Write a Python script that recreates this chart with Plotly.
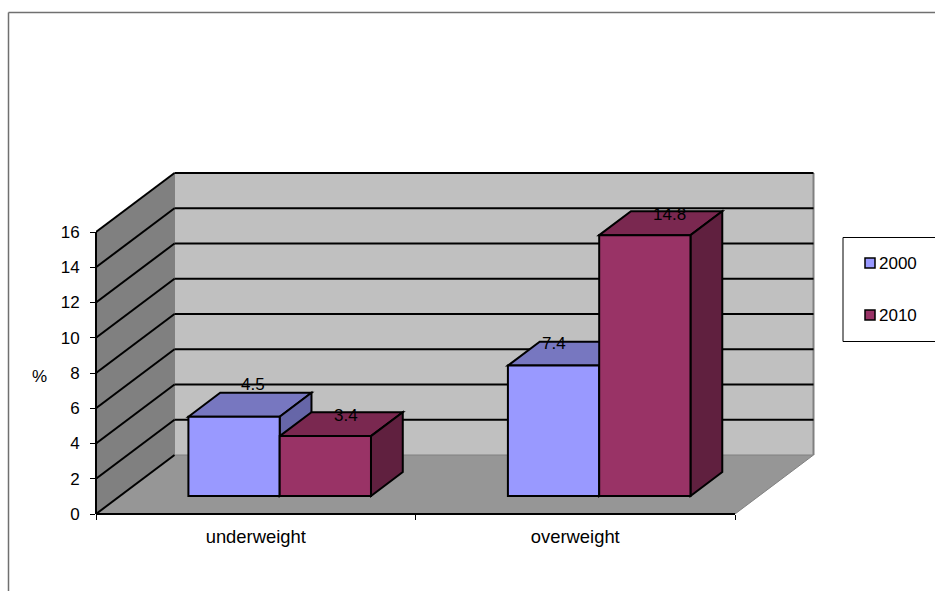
import plotly.graph_objects as go

categories = ["underweight", "overweight"]
series_names = ["2000", "2010"]
values_2000 = [4.5, 7.4]
values_2010 = [3.4, 14.8]
y_ticks = list(range(0, 17, 2))

FONT = "Liberation Sans, Arial, sans-serif"
FS = 17
L, T, R, B = 96, 170, 816, 514       # plot rectangle in page pixels
CAT_PX, VAL_PX = 319.5, 17.625       # pixels per category / per value unit
DX, DY = 78.5, 59                    # full depth offset in pixels
D_FRONT, D_BACK = 0.305, 0.71        # bar depth span
W = 1 / 3.5                          # bar width (gap 150%)
M = 0.75 / 3.5                       # margin inside a category

def P(c, v, d=0.0):
    """Project (category position, value, depth) into axis coordinates."""
    return c + d * DX / CAT_PX, v + d * DY / VAL_PX

def path(pts):
    return "M" + "L".join(f"{x:.5f},{y:.5f}" for x, y in pts) + "Z"

def poly(pts, fill, lw=2, lc="black"):
    return dict(type="path", path=path(pts), xref="x", yref="y", layer="below",
                fillcolor=fill, line=dict(color=lc, width=lw))

def seg(a, b, color="black", width=2):
    return dict(type="line", xref="x", yref="y", layer="below", x0=a[0], y0=a[1], x1=b[0], y1=b[1],
                line=dict(color=color, width=width))

ncat = len(categories)
vmax = y_ticks[-1]
shapes = [
    poly([P(0, 0), P(0, vmax), P(0, vmax, 1), P(0, 0, 1)], "#808080", 0),
    poly([P(0, 0, 1), P(0, vmax, 1), P(ncat, vmax, 1), P(ncat, 0, 1)], "#C0C0C0", 0),
    poly([P(0, 0), P(0, 0, 1), P(ncat, 0, 1), P(ncat, 0)], "#969696", 0),
    seg(P(ncat, 0, 1), P(ncat, vmax, 1), "#808080", 2),
    seg(P(0, 0, 1), P(0, vmax, 1), "#808080", 1),
    seg(P(0, 0, 1), P(ncat, 0, 1), "#808080", 1),
    seg(P(ncat, 0), P(ncat, 0, 1), "#808080", 1),
]
for t in y_ticks:
    if t > 0:
        shapes.append(seg(P(0, t), P(0, t, 1)))
        shapes.append(seg(P(0, t, 1), P(ncat, t, 1)))
shapes.append(seg(P(0, 0), P(0, 0, 1)))

series = [(values_2000, "#9999FF", "#7777C0", "#6666A8"),
          (values_2010, "#993366", "#7A2850", "#60203F")]

traces, annos = [], []
label_shift = [[(19, 32), (0, 22)], [(21, 21), (25, 21)]]
for s, (vals, front, top, side) in enumerate(series):
    xs, bases = [], []
    for i, v in enumerate(vals):
        x0 = i + M + s * W
        x1 = x0 + W
        shapes.append(poly([P(x0, v, D_FRONT), P(x0, v, D_BACK), P(x1, v, D_BACK), P(x1, v, D_FRONT)], top))
        shapes.append(poly([P(x1, 0, D_FRONT), P(x1, v, D_FRONT), P(x1, v, D_BACK), P(x1, 0, D_BACK)], side))
        cx, base = P(x0 + W / 2, 0, D_FRONT)
        xs.append(cx)
        bases.append(base)
        sx, sy = label_shift[s][i]
        annos.append(dict(x=cx, y=base + v, xref="x", yref="y", text=str(v), showarrow=False,
                          xshift=sx, yshift=sy, font=dict(family=FONT, size=FS, color="black")))
    traces.append(go.Bar(x=xs, y=vals, base=bases, width=W, name=series_names[s], showlegend=False,
                         marker=dict(color=front, line=dict(color="black", width=2))))

PW, PH = R - L, B - T
def paper(px, py):
    return (px - L) / PW, (B - py) / PH

def pline(x0, y0, x1, y1, color, width):
    a, b = paper(x0, y0)
    c, d = paper(x1, y1)
    return dict(type="line", xref="paper", yref="paper", x0=a, y0=b, x1=c, y1=d, line=dict(color=color, width=width))

# axis lines (not clipped at the plot edge)
shapes.append(pline(L, B - vmax * VAL_PX, L, B, "black", 2))
shapes.append(pline(L, B, L + ncat * CAT_PX, B, "black", 2))

# outer chart frame and legend box
shapes.append(pline(8.5, 12.5, 8.5, 600, "#707070", 1.5))
shapes.append(pline(8.5, 12.5, 940, 12.5, "#707070", 1.5))
lx0, ly0 = paper(843, 237.5)
lx1, ly1 = paper(940, 341.5)
shapes.append(dict(type="rect", xref="paper", yref="paper", x0=lx0, y0=ly0, x1=lx1, y1=ly1,
                   line=dict(color="black", width=1), fillcolor="white"))

# legend entries
for (name, (_, front, _, _), cy) in zip(series_names, series, [263, 315]):
    a, b = paper(865, cy + 5)
    c, d = paper(875, cy - 5)
    shapes.append(dict(type="rect", xref="paper", yref="paper", x0=a, y0=b, x1=c, y1=d,
                       fillcolor=front, line=dict(color="black", width=1.5)))
    tx, ty = paper(877, cy)
    annos.append(dict(x=tx, y=ty, xref="paper", yref="paper", xanchor="left", yanchor="middle", text=name,
                      showarrow=False, font=dict(family=FONT, size=FS, color="black")))

px_, py_ = paper(39.5, 376)
annos.append(dict(x=px_, y=py_, xref="paper", yref="paper", xanchor="center", yanchor="middle", text="%",
                  showarrow=False, font=dict(family=FONT, size=FS, color="black")))

fig = go.Figure(traces)
fig.update_layout(
    width=935, height=591, autosize=False,
    margin=dict(l=L, r=935 - R, t=T, b=591 - B),
    paper_bgcolor="white", plot_bgcolor="rgba(0,0,0,0)",
    barmode="overlay", showlegend=False, shapes=shapes, annotations=annos,
    font=dict(family=FONT, size=FS, color="black"),
    xaxis=dict(range=[0, PW / CAT_PX], tickmode="array", tickvals=[i + 0.5 for i in range(ncat)], ticktext=categories,
               tickfont=dict(family=FONT, size=18.4),
               ticks="", showgrid=False, zeroline=False, showline=False, ticklabelstandoff=10,
               minor=dict(tickmode="array", tickvals=list(range(ncat + 1)), ticks="outside", ticklen=5, tickwidth=1, tickcolor="black", showgrid=False)),
    yaxis=dict(range=[0, PH / VAL_PX], tickmode="array", tickvals=y_ticks, ticktext=[str(t) for t in y_ticks],
               ticks="outside", ticklen=5, tickwidth=1, tickcolor="black", showgrid=False, zeroline=False, showline=False,
               ticklabelstandoff=7),
)
fig.write_html("out.html", config={"displayModeBar": False},
               post_script="document.body.style.margin='0';document.documentElement.style.overflow='hidden';")
